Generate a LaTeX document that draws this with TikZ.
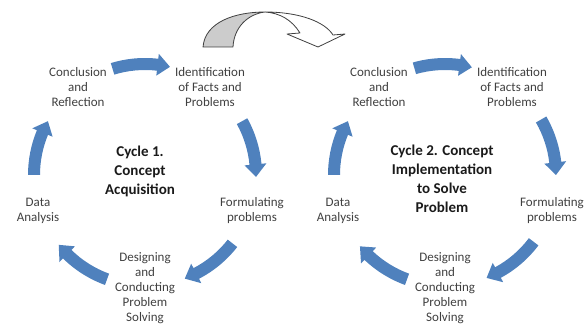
\documentclass[tikz,border=0pt]{standalone}
\usepackage{fontspec}
\setmainfont{Carlito}
\definecolor{cycblue}{HTML}{4F81BD}
\definecolor{txtgray}{HTML}{404040}
\definecolor{titlecol}{HTML}{1A1A1A}
\newcommand\cycarrow[4]{%
  \pgfmathsetmacro\cyhb{#3+6.5}%
  \coordinate (#4-s) at ([shift={(#1)}]#2:111pt);
  \coordinate (#4-e) at ([shift={(#1)}]#3:111pt);
  \fill[cycblue] ([shift={(#1)}]#2:105pt) arc[start angle=#2,end angle=\cyhb,radius=105pt]
    -- ([shift={(#1)}]\cyhb:100pt) -- (#4-e) -- ([shift={(#1)}]\cyhb:122pt) -- ([shift={(#1)}]\cyhb:117pt)
    arc[start angle=\cyhb,end angle=#2,radius=117pt] -- cycle;
}
\begin{document}
\begin{tikzpicture}[x=1pt,y=1pt,
  lbl/.style={align=center,text=txtgray,font=\fontsize{13}{15}\selectfont,inner sep=0pt},
  ttl/.style={align=center,text=titlecol,font=\fontsize{15}{19}\selectfont\bfseries,inner sep=0pt}]
\useasboundingbox (0,0) rectangle (587,327);
% centres
\coordinate (c1) at (145,152);
\coordinate (c2) at (445,152);
% left cycle texts
\node[lbl] (concl1) at (78,240) {Conclusion\\and\\Reflection};
\node[lbl] (ident1) at (210,240) {Identification\\of Facts and\\Problems};
\node[ttl] (title1) at (140,156) {Cycle 1.\\Concept\\Acquisition};
\node[lbl] (data1) at (38,116) {Data\\Analysis};
\node[lbl] (form1) at (252,116) {Formulating\\problems};
\node[lbl] (design1) at (145,39) {Designing\\and\\Conducting\\Problem\\Solving};
% right cycle texts
\node[lbl] (concl2) at (379,240) {Conclusion\\and\\Reflection};
\node[lbl] (ident2) at (512,240) {Identification\\of Facts and\\Problems};
\node[ttl] (title2) at (442,148) {Cycle 2. Concept\\Implementation\\to Solve\\Problem};
\node[lbl] (data2) at (338,116) {Data\\Analysis};
\node[lbl] (form2) at (552,116) {Formulating\\problems};
\node[lbl] (design2) at (445,39) {Designing\\and\\Conducting\\Problem\\Solving};
% cycle arrows
\cycarrow{c1}{107}{77}{a1}
\cycarrow{c1}{29}{-1}{a2}
\cycarrow{c1}{-38}{-69}{a3}
\cycarrow{c1}{-110}{-141}{a4}
\cycarrow{c1}{180}{151}{a5}
\cycarrow{c2}{106}{76}{b1}
\cycarrow{c2}{30}{0}{b2}
\cycarrow{c2}{-37}{-68}{b3}
\cycarrow{c2}{-110}{-140}{b4}
\cycarrow{c2}{180}{151}{b5}
% big curved arrow between cycles
\coordinate (p) at (265,315);
\fill[gray!40,draw=black!75,line width=0.8pt,line join=round]
  (203,280) .. controls (205,305) and (235,315) .. (p)
  .. controls (248,313) and (234,300) .. (233,280) -- cycle;
\filldraw[fill=white,draw=black!75,line width=0.8pt,line join=round]
  (p) .. controls (300,315) and (325,305) .. (333,292)
  -- (345,293) -- (318,280) -- (287,293) -- (300,294)
  .. controls (292,307) and (280,314) .. (p);
\end{tikzpicture}
\end{document}
